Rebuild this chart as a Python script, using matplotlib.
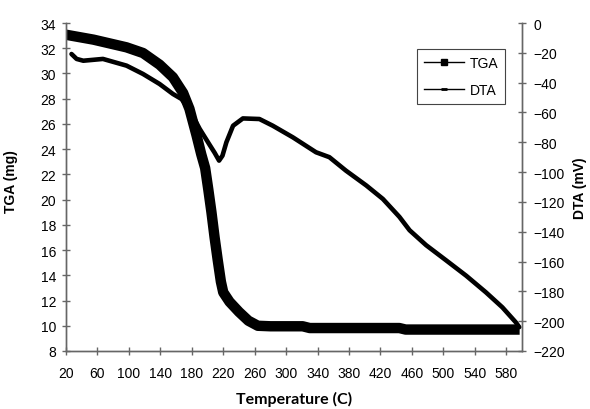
import matplotlib
matplotlib.use("Agg")
import matplotlib.pyplot as plt
from matplotlib.lines import Line2D

# TGA curve: temperature (C) vs mass (mg)
tga_temp = [20, 55, 97, 118, 139, 156, 169, 177, 186, 192, 197, 201, 205, 209,
            213, 217, 220, 228, 240, 252, 264, 280, 321, 330, 444, 452, 597]
tga_mass = [33.07, 32.68, 32.07, 31.62, 30.7, 29.7, 28.45, 27.2, 25.1, 23.6,
            22.5, 20.8, 19.0, 17.0, 15.2, 13.5, 12.65, 11.9, 11.1, 10.4, 10.0,
            9.96, 9.96, 9.82, 9.82, 9.7, 9.7]

# DTA curve: temperature (C) vs signal (mV)
dta_temp = [27, 33.5, 42, 67, 97, 118, 139, 156, 167, 178, 190, 203, 209,
            214.7, 219, 224, 232.5, 245, 266, 283, 308.6, 338, 355, 376, 402,
            423, 444, 457, 478, 503, 529, 554, 575, 592, 596.5]
dta_mv = [-20.8, -24.1, -25.3, -24.1, -28.6, -34.2, -40.9, -47.6, -51, -59,
          -71, -82, -87, -92.3, -89, -80, -68.9, -64, -64.4, -68.9, -76.7,
          -86.7, -90, -99, -109, -118, -130, -139, -149, -159, -169.5, -180.6,
          -190.7, -200.7, -204]

x_ticks = list(range(20, 600, 40))
left_ticks = list(range(8, 35, 2))
right_ticks = list(range(-220, 1, 20))

plt.rcParams['font.family'] = ['Liberation Sans', 'DejaVu Sans']
plt.rcParams['font.size'] = 10

fig = plt.figure(figsize=(5.9, 4.1), dpi=100)
ax = fig.add_axes([66 / 590, 58 / 410, 456 / 590, 328 / 410])
ax2 = ax.twinx()

ax.plot(tga_temp, tga_mass, color='black', lw=7.5, solid_capstyle='butt',
        solid_joinstyle='round')
ax2.plot(dta_temp, dta_mv, color='black', lw=3.3, solid_joinstyle='round',
         solid_capstyle='round')

ax.set_xlim(20, 600)
ax.set_ylim(8, 34)
ax2.set_ylim(-220, 0)
ax.set_xticks(x_ticks)
ax.set_yticks(left_ticks)
ax2.set_yticks(right_ticks)

spine_col = '#666666'
for a in (ax, ax2):
    a.spines['top'].set_visible(False)
    for s in a.spines.values():
        s.set_color(spine_col)
        s.set_linewidth(1)
    a.tick_params(direction='inout', length=6, width=1, color=spine_col,
                  labelsize=10, labelcolor='black')
ax.tick_params(axis='y', pad=4)
ax.tick_params(axis='x', pad=8)
ax2.tick_params(axis='y', pad=5)

ax.set_ylabel('TGA (mg)', fontweight='bold', fontsize=10)
ax.yaxis.set_label_coords(-0.105, 0.52)
ax2.set_ylabel('DTA (mV)', fontweight='bold', fontsize=10, labelpad=6)
ax.set_xlabel('Temperature (C)', fontweight='bold', fontsize=11.5,
              family=['Lato', 'DejaVu Sans'], labelpad=8)

handles = [
    Line2D([], [], color='black', lw=1, marker='s', markersize=5),
    Line2D([], [], color='black', lw=1, marker='_', markersize=4, mew=2),
]
leg = ax.legend(handles, ['TGA', 'DTA'], loc='upper right',
                bbox_to_anchor=((505 - 66) / 456, 1 - 26 / 328),
                borderaxespad=0, fancybox=False, framealpha=1,
                edgecolor='#444444', fontsize=10, handlelength=2.9,
                handletextpad=0.4, borderpad=0.5, labelspacing=0.95)
leg.get_frame().set_linewidth(0.8)

fig.savefig('out.png', dpi=100)
